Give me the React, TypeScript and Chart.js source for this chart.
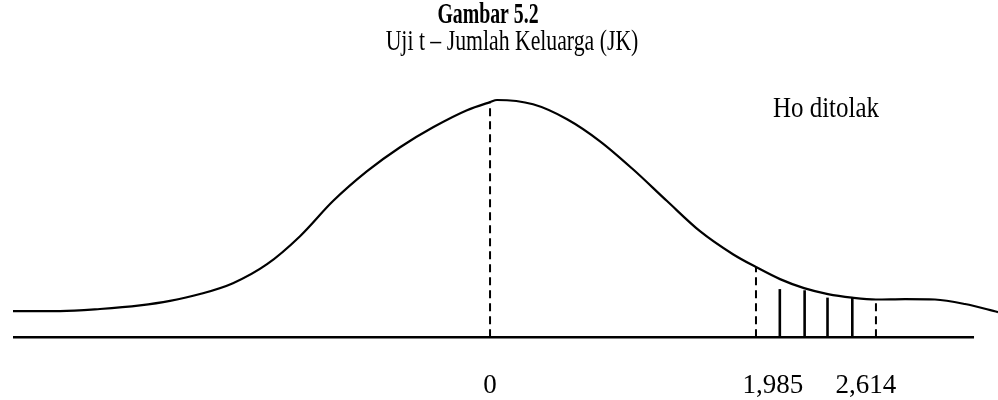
import React, { useEffect, useRef } from "react";
import { Chart, registerables, LinearScale } from "chart.js";

Chart.register(...registerables);

// Text
const TITLE = "Gambar 5.2";
const SUBTITLE = "Uji t – Jumlah Keluarga (JK)";
const REGION_LABEL = "Ho ditolak";

// Drawn t-distribution curve: t position and relative height (peak = 100)
const curveT = [
  -3.5, -3.155, -2.862, -2.568, -2.348, -2.128, -1.886, -1.636, -1.394, -1.152,
  -0.902, -0.66, -0.418, -0.169, 0, 0.052, 0.321, 0.575, 0.821, 1.067, 1.321,
  1.567, 1.813, 1.985, 2.111, 2.237, 2.362, 2.488, 2.614, 2.825, 3.042, 3.26,
  3.5,
];
const curveH = [
  11.05, 11.05, 11.9, 13.4, 15.3, 18.2, 22.8, 30.8, 42.6, 57.4, 70.0, 80.1,
  88.5, 95.7, 99.1, 100, 98.2, 91.9, 82.6, 70.8, 57.4, 44.7, 35.0, 29.6, 24.5,
  20.7, 18.2, 16.7, 15.9, 16.1, 15.9, 14.0, 10.6,
];

// Critical values and the dashed markers
const tickValues = [0, 1.985, 2.614];
const dashedT = [0, 1.985, 2.614];
const dashedTop = [99.3, 29.6, 15.9];

// Hatching inside the rejection region
const hatchT = [2.11, 2.24, 2.36, 2.49];
const hatchTop = [20.3, 19.8, 16.7, 16.7];

// Horizontal axis line
const axisLineT = [-3.5, 3.326];

// Schematic horizontal scale: the rejection region is drawn wider than the rest
const knotT = [-3.5, 0, 1.985, 2.614, 3.5];
const knotFrac = [0, 0.4843, 0.7543, 0.8761, 1];

function tToFrac(v: number): number {
  let i = 0;
  while (i < knotT.length - 2 && v > knotT[i + 1]) i++;
  const s = (knotFrac[i + 1] - knotFrac[i]) / (knotT[i + 1] - knotT[i]);
  return knotFrac[i] + (v - knotT[i]) * s;
}

function fracToT(f: number): number {
  let i = 0;
  while (i < knotFrac.length - 2 && f > knotFrac[i + 1]) i++;
  const s = (knotT[i + 1] - knotT[i]) / (knotFrac[i + 1] - knotFrac[i]);
  return knotT[i] + (f - knotFrac[i]) * s;
}

class SchematicScale extends LinearScale {
  static id = "schematic";
  static defaults = LinearScale.defaults;
  getPixelForValue(value: number) {
    if (value === null || value === undefined || isNaN(value)) return NaN;
    return this.getPixelForDecimal(tToFrac(value));
  }
  getValueForPixel(pixel: number) {
    return fracToT(this.getDecimalForPixel(pixel));
  }
}
Chart.register(SchematicScale as any);

const SERIF = "'Liberation Serif', 'Times New Roman', serif";

// Tick text with the decimal comma; the critical values sit a little off their lines
function tickText(v: number): string {
  if (v === 0) return "0";
  const s = v.toFixed(3).replace(".", ",");
  if (v === tickValues[1]) return "     " + s;
  if (v === tickValues[2]) return s + "   ";
  return s;
}

// Narrow, print-style serif text
function narrowText(
  ctx: CanvasRenderingContext2D,
  text: string,
  x: number,
  y: number,
  font: string,
  sx: number,
  align: CanvasTextAlign
) {
  ctx.save();
  ctx.font = font;
  ctx.textAlign = align;
  ctx.textBaseline = "alphabetic";
  ctx.translate(x, y);
  ctx.scale(sx, 1);
  ctx.fillText(text, 0, 0);
  ctx.restore();
}

const textPlugin = {
  id: "figureText",
  afterDraw(chart: any) {
    const ctx = chart.ctx;
    ctx.save();
    ctx.fillStyle = "#000";
    narrowText(ctx, TITLE, 488, 23, `bold 30px ${SERIF}`, 0.66, "center");
    narrowText(ctx, SUBTITLE, 512, 50, `29px ${SERIF}`, 0.75, "center");
    narrowText(ctx, REGION_LABEL, 773, 117, `29px ${SERIF}`, 0.86, "left");
    ctx.restore();
  },
};

function verticalLine(t: number, top: number, dashed: boolean) {
  return {
    data: [
      { x: t, y: 0 },
      { x: t, y: top },
    ],
    borderColor: "#000",
    borderWidth: dashed ? 2 : 2.6,
    borderDash: dashed ? [8, 5] : [],
    pointRadius: 0,
    tension: 0,
  };
}

export default function App() {
  const ref = useRef<HTMLCanvasElement | null>(null);

  useEffect(() => {
    const prevMargin = document.body.style.margin;
    document.body.style.margin = "0";
    const canvas = ref.current;
    if (!canvas) return;

    const datasets: any[] = [
      {
        data: curveT.map((t, i) => ({ x: t, y: curveH[i] })),
        borderColor: "#000",
        borderWidth: 2.2,
        pointRadius: 0,
        cubicInterpolationMode: "monotone",
      },
      {
        data: axisLineT.map((t) => ({ x: t, y: 0 })),
        borderColor: "#000",
        borderWidth: 2.6,
        pointRadius: 0,
      },
      ...dashedT.map((t, i) => verticalLine(t, dashedTop[i], true)),
      ...hatchT.map((t, i) => verticalLine(t, hatchTop[i], false)),
    ];

    const chart = new Chart(canvas, {
      type: "line",
      data: { datasets },
      options: {
        animation: false,
        responsive: false,
        devicePixelRatio: 1,
        layout: { padding: { left: 13, right: 0, top: 0, bottom: 0 } },
        plugins: {
          legend: { display: false },
          tooltip: { enabled: false },
          title: { display: false },
        },
        scales: {
          x: {
            type: "schematic" as any,
            min: -3.5,
            max: 3.5,
            grid: { display: false, drawTicks: false },
            border: { display: false },
            afterBuildTicks: (axis: any) => {
              axis.ticks = tickValues.map((v) => ({ value: v }));
            },
            ticks: {
              autoSkip: false,
              maxRotation: 0,
              padding: 0.5,
              color: "#000",
              font: { family: SERIF, size: 27, lineHeight: 1 },
              callback: (value: any) => tickText(Number(value)),
            },
          },
          y: {
            type: "linear",
            display: false,
            min: -14.65,
            max: 142.15,
          },
        },
      } as any,
      plugins: [textPlugin],
    });

    return () => {
      chart.destroy();
      document.body.style.margin = prevMargin;
    };
  }, []);

  return (
    <div style={{ width: 998, height: 400, background: "#fff" }}>
      <canvas ref={ref} width={998} height={400} style={{ display: "block" }} />
    </div>
  );
}
